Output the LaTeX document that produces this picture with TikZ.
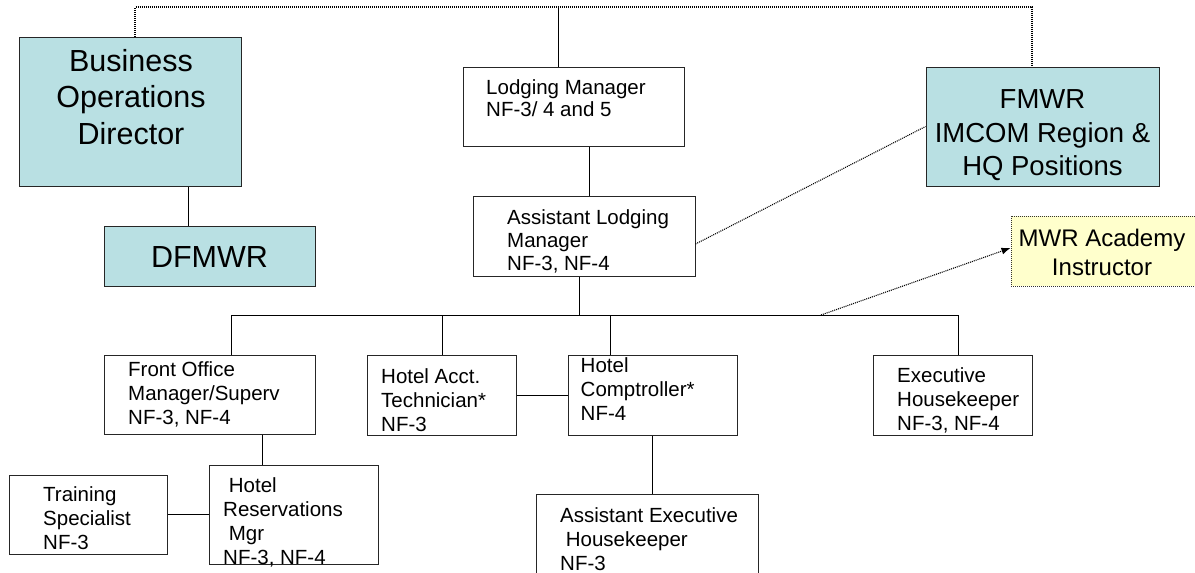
\documentclass[tikz,border=0pt]{standalone}
\usepackage{fontspec}
\setmainfont{Liberation Sans}
\usetikzlibrary{arrows.meta}
\definecolor{hqteal}{RGB}{185,224,227}
\definecolor{notepale}{RGB}{255,255,204}
\begin{document}
\begin{tikzpicture}[x=1pt,y=-1pt,
  box/.style={draw=black!85, line width=1pt, rectangle, inner sep=0pt, fill=white},
  hqbox/.style={box, fill=hqteal},
  notebox/.style={box, fill=notepale, draw=black!80, dash pattern=on 1pt off 1pt},
  wire/.style={draw=black, line width=1pt},
  dotwire/.style={draw=black, line width=1.1pt, dash pattern=on 1pt off 1pt},
  small/.style={inner sep=0pt, anchor=north west, align=left, font=\fontsize{20.5}{24}\selectfont},
  tight/.style={inner sep=0pt, anchor=north west, align=left, font=\fontsize{20.5}{22.8}\selectfont},
  big/.style={inner sep=0pt, anchor=north, align=center, font=\fontsize{30.5}{36.5}\selectfont},
  mid/.style={inner sep=0pt, anchor=north, align=center, font=\fontsize{27.5}{33.5}\selectfont},
  note/.style={inner sep=0pt, anchor=north, align=center, font=\fontsize{24}{29}\selectfont}
]
\useasboundingbox (0,0) rectangle (1195,573);

% ---- boxes ----
\node[hqbox, minimum width=222, minimum height=149] (bod)   at (130,111.5) {};
\node[hqbox, minimum width=211, minimum height=60]  (dfmwr) at (209.5,256) {};
\node[box,   minimum width=221, minimum height=79]  (lm)    at (573.5,106.5) {};
\node[box,   minimum width=222, minimum height=80]  (alm)   at (584,236) {};
\node[hqbox, minimum width=233, minimum height=119] (fmwr)  at (1042.5,126.5) {};
\node[notebox, minimum width=184, minimum height=70] (mwr)  at (1103,251) {};
\node[box,   minimum width=211, minimum height=79]  (fo)    at (209.5,394.5) {};
\node[box,   minimum width=158, minimum height=79]  (ts)    at (88,514.5) {};
\node[box,   minimum width=169, minimum height=99]  (hrm)   at (293.5,514.5) {};
\node[box,   minimum width=149, minimum height=80]  (hat)   at (441.5,395) {};
\node[box,   minimum width=169, minimum height=80]  (hc)    at (652.5,395) {};
\node[box,   minimum width=222, minimum height=91]  (aeh)   at (647,539.5) {};
\node[box,   minimum width=159, minimum height=80]  (eh)    at (952.5,395) {};

% ---- box texts ----
\node[big]  (bod-t)   at (131,49)    {Business\\Operations\\Director};
\node[big]  (dfmwr-t) at (209.5,246) {DFMWR};
\node[tight] (lm-t)   at (486,79)    {Lodging Manager\\NF-3/ 4 and 5};
\node[tight] (alm-t)  at (507,209.5) {Assistant Lodging\\Manager\\NF-3, NF-4};
\node[mid]  (fmwr-t)  at (1042.5,89.5) {FMWR\\IMCOM Region \&\\HQ Positions};
\node[note] (mwr-t)   at (1102,228.5) {MWR Academy\\Instructor};
\node[small] (fo-t)   at (128,361.5) {Front Office\\Manager/Superv\\NF-3, NF-4};
\node[small] (ts-t)   at (43,486)    {Training\\Specialist\\NF-3};
\node[small] (hrm-t)  at (223,477)   {~Hotel\\Reservations\\~Mgr\\NF-3, NF-4};
\node[small] (hat-t)  at (381,368.5) {Hotel Acct.\\Technician*\\NF-3};
\node[small] (hc-t)   at (580.5,357.5) {Hotel\\Comptroller*\\NF-4};
\node[small] (aeh-t)  at (560,507)   {Assistant Executive\\~Housekeeper\\NF-3};
\node[small] (eh-t)   at (897,367.5) {Executive\\Housekeeper\\NF-3, NF-4};

% ---- junction points ----
\coordinate (topL)  at (135,7);
\coordinate (topR)  at (1032,7);
\coordinate (lmtop) at (558,7);
\coordinate (busL)  at (231,315);
\coordinate (busR)  at (958,315);
\coordinate (busA)  at (579,315);
\coordinate (busH)  at (442,315);
\coordinate (busC)  at (610,315);
\coordinate (mwrsrc) at (821,315);

% ---- dotted reporting lines ----
\draw[dotwire] (bod.north -| topL) -- (topL) -- (topR) -- (fmwr.north -| topR);
\draw[dotwire] ([yshift=-8pt]alm.east) -- (fmwr.west);
\draw[dotwire, -{Latex[length=9pt, width=7pt]}] (mwrsrc) -- ([yshift=3pt]mwr.west);

% ---- solid reporting lines ----
\draw[wire] (lmtop) -- (lm.north -| lmtop);
\draw[wire] (bod.south -| 188,0) -- (dfmwr.north -| 188,0);
\draw[wire] (lm.south -| 589,0) -- (alm.north -| 589,0);
\draw[wire] (alm.south -| busA) -- (busA);
\draw[wire] (busL) -- (busR);
\draw[wire] (busL) -- (fo.north -| busL);
\draw[wire] (busH) -- (hat.north -| busH);
\draw[wire] (busC) -- (hc.north -| busC);
\draw[wire] (busR) -- (eh.north -| busR);
\draw[wire] (fo.south -| 262,0) -- (hrm.north -| 262,0);
\draw[wire] (ts.east) -- (hrm.west |- ts.east);
\draw[wire] (hat.east) -- (hc.west |- hat.east);
\draw[wire] (hc.south) -- (aeh.north -| hc.south);
\end{tikzpicture}
\end{document}
